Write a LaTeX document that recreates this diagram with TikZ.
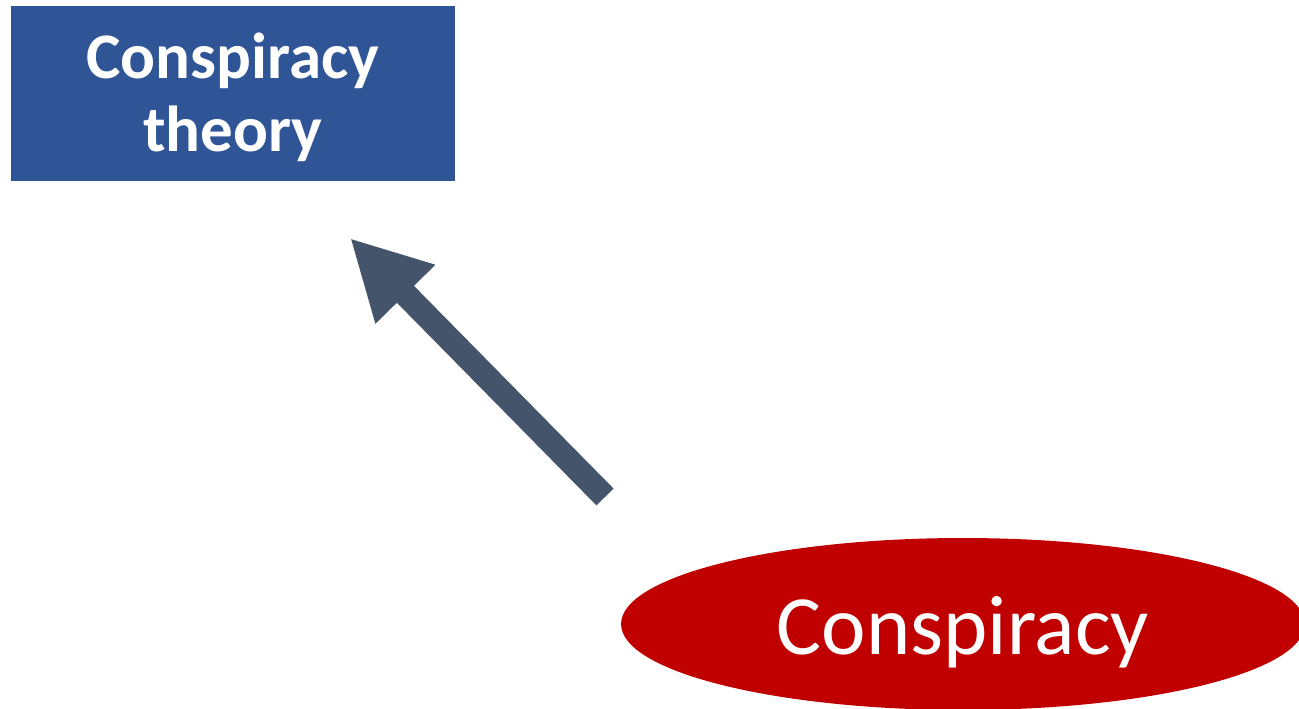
\documentclass[tikz,border=0pt]{standalone}
\usepackage{fontspec}
\setmainfont{Carlito}
\usepackage{tikz}
\usetikzlibrary{shapes.geometric}
\usetikzlibrary{arrows.meta}

\definecolor{boxblue}{HTML}{2F5597}
\definecolor{ovalred}{HTML}{C00000}
\definecolor{arrowgray}{HTML}{44546A}

\begin{document}
\begin{tikzpicture}[x=0.02cm, y=-0.02cm,
		termbox/.style={rectangle, fill=boxblue, text=white, inner sep=0pt, minimum width=8.88cm, minimum height=3.5cm, align=center, font=\bfseries\fontsize{37}{42}\selectfont},
		termoval/.style={ellipse, fill=ovalred, text=white, inner sep=0pt, minimum width=13.68cm, minimum height=3.44cm, font=\fontsize{48}{54}\selectfont},
		bigarrow/.style={arrowgray, line width=0.48cm, -{Triangle[length=1.58cm, width=1.56cm]}}]
		\clip (0, 0) rectangle (1299, 709);
		% Nodes:
		\node[termbox] (theory) at (233, 93.5) {\raisebox{-1.17cm}[0pt][0pt]{\begin{tabular}[b]{@{}c@{}}Conspiracy\\theory\end{tabular}}};
		\node[termoval] (conspiracy) at (963, 624) {\raisebox{-0.62cm}[0pt][0pt]{Conspiracy}};
		% Arrow:
		\coordinate (tail) at (605, 497);
		\coordinate (tip) at (350, 238);
		\draw[bigarrow] (tail) -- (tip);
	\end{tikzpicture}
\end{document}
